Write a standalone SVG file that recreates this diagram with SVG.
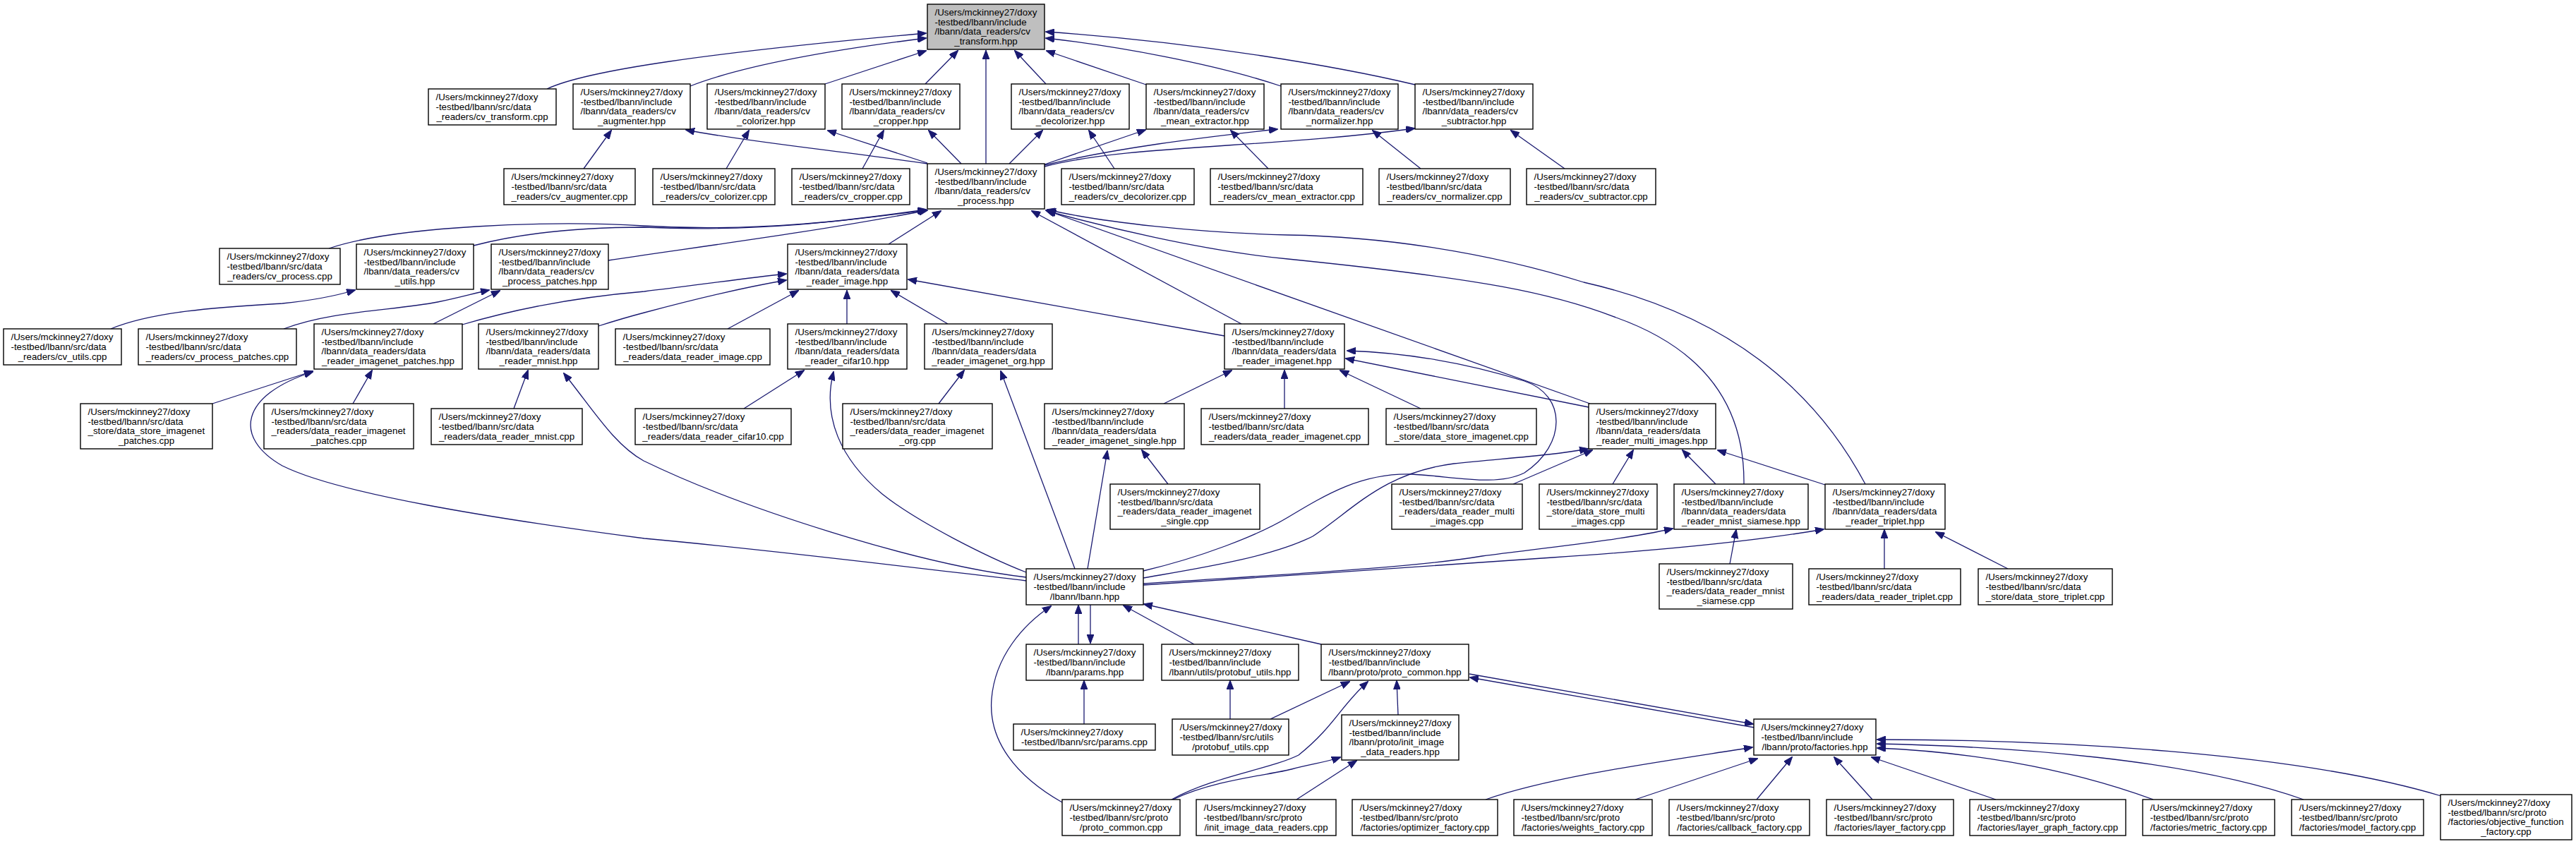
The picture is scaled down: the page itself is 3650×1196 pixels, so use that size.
<svg xmlns="http://www.w3.org/2000/svg" width="3650" height="1196" viewBox="0 0 3650 1196">
<style>
.n rect{fill:#fff;stroke:#000;stroke-width:1.4}
.n.g rect{fill:#bfbfbf}
.n text{font-family:"Liberation Sans",Arial,Helvetica,sans-serif;font-size:13.3px;fill:#000}
.n .c{text-anchor:middle}
.e path{fill:none;stroke:#191970;stroke-width:1.3;marker-end:url(#a)}
</style>
<defs>
<marker id="a" markerUnits="userSpaceOnUse" markerWidth="13" markerHeight="10" viewBox="0 0 13 10" refX="12" refY="5" orient="auto"><path d="M0,0 L13,5 L0,10 z" fill="#191970" stroke="#191970"/></marker>
</defs>
<rect width="3650" height="1196" fill="#fff"/>
<g id="edges" class="e">
<path d="M775,126 C830,100 1000,75 1312,47"/>
<path d="M978,122 C1060,90 1200,68 1312,54"/>
<path d="M1169,119 L1312,72"/>
<path d="M1311,119 L1357,72"/>
<path d="M1397,232 L1397,72"/>
<path d="M1482,119 L1438,72"/>
<path d="M1624,120 L1483,72"/>
<path d="M1815,122 C1720,90 1580,65 1482,54"/>
<path d="M2005,120 C1900,95 1700,60 1482,45"/>
<path d="M1314,232 C1200,215 1050,200 972,184"/>
<path d="M1314,231 L1173,185"/>
<path d="M1362,232 L1316,185"/>
<path d="M1430,232 L1477,185"/>
<path d="M1480,233 L1623,184"/>
<path d="M1480,234 C1580,210 1700,195 1810,183"/>
<path d="M1480,236 C1600,205 1800,210 2004,182"/>
<path d="M827,239 L866,185"/>
<path d="M1029,239 L1061,185"/>
<path d="M1222,239 L1252,185"/>
<path d="M1579,239 L1543,185"/>
<path d="M1797,239 L1744,185"/>
<path d="M2013,239 L1945,185"/>
<path d="M2217,239 L2141,185"/>
<path d="M466,352 C560,320 780,312 912,320 C1080,330 1220,310 1312,297"/>
<path d="M671,348 C740,330 820,322 912,322 C1080,330 1220,310 1312,298"/>
<path d="M862,369 C950,355 1150,330 1314,298"/>
<path d="M1259,346 L1333,299"/>
<path d="M1759,459 L1462,299"/>
<path d="M2253,572 L1482,298"/>
<path d="M2471,686 C2472,590 2430,500 2290,450 C2200,415 2100,395 1825,367 C1700,355 1560,320 1484,299"/>
<path d="M2643,686 C2560,530 2420,440 2244,400 C2100,355 1950,335 1825,333 C1700,330 1560,315 1484,297"/>
<path d="M1735,476 L1287,396"/>
<path d="M157,466 C220,440 320,435 400,430 C450,425 480,418 503,411"/>
<path d="M402,466 C470,440 560,440 620,428 C650,422 670,416 693,411"/>
<path d="M614,459 L708,412"/>
<path d="M655,460 C740,435 830,420 913,413 C980,405 1050,395 1114,388"/>
<path d="M848,462 C870,455 890,449 913,443 C980,425 1050,408 1114,397"/>
<path d="M1031,466 L1131,412"/>
<path d="M1200,459 L1200,412"/>
<path d="M1343,459 L1263,412"/>
<path d="M301,572 L443,526"/>
<path d="M500,572 L527,525"/>
<path d="M728,579 L748,525"/>
<path d="M1054,579 L1139,525"/>
<path d="M1330,572 L1366,525"/>
<path d="M1649,572 L1745,525"/>
<path d="M1820,579 L1820,525"/>
<path d="M2013,579 L1899,525"/>
<path d="M2251,577 L1907,508"/>
<path d="M1655,686 L1618,638"/>
<path d="M2144,686 L2256,638"/>
<path d="M2285,686 L2314,638"/>
<path d="M2431,686 L2384,638"/>
<path d="M2586,687 L2434,638"/>
<path d="M2451,799 L2460,751"/>
<path d="M2670,806 L2670,751"/>
<path d="M2845,806 L2743,754"/>
<path d="M1454,823 C1300,805 1100,780 913,763 C700,735 480,700 400,660 C330,620 340,560 443,527"/>
<path d="M1454,818 C1300,800 1050,720 912,653 C870,630 840,580 799,529"/>
<path d="M1454,811 C1400,790 1300,740 1250,700 C1190,650 1165,590 1181,527"/>
<path d="M1523,806 L1418,526"/>
<path d="M1541,806 L1569,639"/>
<path d="M1620,809 C1700,790 1780,760 1825,733 C1880,700 1930,670 2000,672 C2060,675 2120,690 2160,670 C2220,630 2220,560 2160,540 C2080,515 2000,500 1909,497"/>
<path d="M1620,819 C1700,805 1800,790 1860,760 C1920,720 1960,670 2060,657 C2150,648 2200,645 2250,636"/>
<path d="M1620,827 C1800,815 2000,805 2100,788 C2200,775 2300,765 2370,749"/>
<path d="M1620,829 C1800,818 2050,800 2200,790 C2350,780 2480,768 2584,750"/>
<path d="M1545,857 L1545,911"/>
<path d="M1528,913 L1528,858"/>
<path d="M1692,913 L1592,858"/>
<path d="M1872,913 L1621,856"/>
<path d="M1505,1137 C1440,1100 1400,1050 1405,990 C1410,930 1450,885 1489,859"/>
<path d="M1536,1026 L1536,965"/>
<path d="M1743,1019 L1743,965"/>
<path d="M1800,1019 L1912,966"/>
<path d="M1660,1133 C1720,1100 1800,1090 1840,1070 C1890,1030 1900,1000 1938,966"/>
<path d="M1662,1133 C1720,1105 1800,1098 1830,1090 C1860,1082 1880,1080 1899,1073"/>
<path d="M1837,1133 L1922,1078"/>
<path d="M1981,1013 L1979,965"/>
<path d="M2486,1031 L2083,960"/>
<path d="M2082,955 L2484,1026"/>
<path d="M2105,1133 C2200,1100 2350,1080 2483,1059"/>
<path d="M2317,1133 L2490,1075"/>
<path d="M2489,1133 L2539,1073"/>
<path d="M2653,1133 L2599,1073"/>
<path d="M2828,1133 L2652,1073"/>
<path d="M3051,1133 C2920,1085 2780,1065 2660,1060"/>
<path d="M3264,1133 C3100,1075 2850,1058 2660,1054"/>
<path d="M3459,1128 C3250,1065 2900,1048 2660,1048"/>
</g>
<g id="cv_transform_hpp" class="n g"><rect x="1314" y="6" width="166" height="64"/><text x="1324.5" y="22.1">/Users/mckinney27/doxy</text><text x="1324.5" y="35.7">-testbed/lbann/include</text><text x="1324.5" y="49.3">/lbann/data_readers/cv</text><text class="c" x="1397" y="62.9">_transform.hpp</text></g>
<g id="cv_transform_cpp" class="n"><rect x="607" y="126" width="181" height="51"/><text x="617.5" y="142.4">/Users/mckinney27/doxy</text><text x="617.5" y="156">-testbed/lbann/src/data</text><text class="c" x="697.5" y="169.6">_readers/cv_transform.cpp</text></g>
<g id="cv_augmenter_hpp" class="n"><rect x="812" y="119" width="166" height="64"/><text x="822.5" y="135.1">/Users/mckinney27/doxy</text><text x="822.5" y="148.7">-testbed/lbann/include</text><text x="822.5" y="162.3">/lbann/data_readers/cv</text><text class="c" x="895" y="175.9">_augmenter.hpp</text></g>
<g id="cv_colorizer_hpp" class="n"><rect x="1002" y="119" width="167" height="64"/><text x="1012.5" y="135.1">/Users/mckinney27/doxy</text><text x="1012.5" y="148.7">-testbed/lbann/include</text><text x="1012.5" y="162.3">/lbann/data_readers/cv</text><text class="c" x="1085.5" y="175.9">_colorizer.hpp</text></g>
<g id="cv_cropper_hpp" class="n"><rect x="1193" y="119" width="167" height="64"/><text x="1203.5" y="135.1">/Users/mckinney27/doxy</text><text x="1203.5" y="148.7">-testbed/lbann/include</text><text x="1203.5" y="162.3">/lbann/data_readers/cv</text><text class="c" x="1276.5" y="175.9">_cropper.hpp</text></g>
<g id="cv_decolorizer_hpp" class="n"><rect x="1433" y="119" width="167" height="64"/><text x="1443.5" y="135.1">/Users/mckinney27/doxy</text><text x="1443.5" y="148.7">-testbed/lbann/include</text><text x="1443.5" y="162.3">/lbann/data_readers/cv</text><text class="c" x="1516.5" y="175.9">_decolorizer.hpp</text></g>
<g id="cv_mean_extractor_hpp" class="n"><rect x="1624" y="119" width="167" height="64"/><text x="1634.5" y="135.1">/Users/mckinney27/doxy</text><text x="1634.5" y="148.7">-testbed/lbann/include</text><text x="1634.5" y="162.3">/lbann/data_readers/cv</text><text class="c" x="1707.5" y="175.9">_mean_extractor.hpp</text></g>
<g id="cv_normalizer_hpp" class="n"><rect x="1815" y="119" width="166" height="64"/><text x="1825.5" y="135.1">/Users/mckinney27/doxy</text><text x="1825.5" y="148.7">-testbed/lbann/include</text><text x="1825.5" y="162.3">/lbann/data_readers/cv</text><text class="c" x="1898" y="175.9">_normalizer.hpp</text></g>
<g id="cv_subtractor_hpp" class="n"><rect x="2005" y="119" width="167" height="64"/><text x="2015.5" y="135.1">/Users/mckinney27/doxy</text><text x="2015.5" y="148.7">-testbed/lbann/include</text><text x="2015.5" y="162.3">/lbann/data_readers/cv</text><text class="c" x="2088.5" y="175.9">_subtractor.hpp</text></g>
<g id="cv_augmenter_cpp" class="n"><rect x="714" y="239" width="186" height="51"/><text x="724.5" y="255.4">/Users/mckinney27/doxy</text><text x="724.5" y="269">-testbed/lbann/src/data</text><text class="c" x="807" y="282.6">_readers/cv_augmenter.cpp</text></g>
<g id="cv_colorizer_cpp" class="n"><rect x="925" y="239" width="173" height="51"/><text x="935.5" y="255.4">/Users/mckinney27/doxy</text><text x="935.5" y="269">-testbed/lbann/src/data</text><text class="c" x="1011.5" y="282.6">_readers/cv_colorizer.cpp</text></g>
<g id="cv_cropper_cpp" class="n"><rect x="1122" y="239" width="167" height="51"/><text x="1132.5" y="255.4">/Users/mckinney27/doxy</text><text x="1132.5" y="269">-testbed/lbann/src/data</text><text class="c" x="1205.5" y="282.6">_readers/cv_cropper.cpp</text></g>
<g id="cv_process_hpp" class="n"><rect x="1314" y="232" width="166" height="64"/><text x="1324.5" y="248.1">/Users/mckinney27/doxy</text><text x="1324.5" y="261.7">-testbed/lbann/include</text><text x="1324.5" y="275.3">/lbann/data_readers/cv</text><text class="c" x="1397" y="288.9">_process.hpp</text></g>
<g id="cv_decolorizer_cpp" class="n"><rect x="1504" y="239" width="188" height="51"/><text x="1514.5" y="255.4">/Users/mckinney27/doxy</text><text x="1514.5" y="269">-testbed/lbann/src/data</text><text class="c" x="1598" y="282.6">_readers/cv_decolorizer.cpp</text></g>
<g id="cv_mean_extractor_cpp" class="n"><rect x="1715" y="239" width="216" height="51"/><text x="1725.5" y="255.4">/Users/mckinney27/doxy</text><text x="1725.5" y="269">-testbed/lbann/src/data</text><text class="c" x="1823" y="282.6">_readers/cv_mean_extractor.cpp</text></g>
<g id="cv_normalizer_cpp" class="n"><rect x="1954" y="239" width="186" height="51"/><text x="1964.5" y="255.4">/Users/mckinney27/doxy</text><text x="1964.5" y="269">-testbed/lbann/src/data</text><text class="c" x="2047" y="282.6">_readers/cv_normalizer.cpp</text></g>
<g id="cv_subtractor_cpp" class="n"><rect x="2163" y="239" width="183" height="51"/><text x="2173.5" y="255.4">/Users/mckinney27/doxy</text><text x="2173.5" y="269">-testbed/lbann/src/data</text><text class="c" x="2254.5" y="282.6">_readers/cv_subtractor.cpp</text></g>
<g id="cv_process_cpp" class="n"><rect x="311" y="352" width="171" height="51"/><text x="321.5" y="368.4">/Users/mckinney27/doxy</text><text x="321.5" y="382">-testbed/lbann/src/data</text><text class="c" x="396.5" y="395.6">_readers/cv_process.cpp</text></g>
<g id="cv_utils_hpp" class="n"><rect x="505" y="346" width="166" height="64"/><text x="515.5" y="362.1">/Users/mckinney27/doxy</text><text x="515.5" y="375.7">-testbed/lbann/include</text><text x="515.5" y="389.3">/lbann/data_readers/cv</text><text class="c" x="588" y="402.9">_utils.hpp</text></g>
<g id="cv_process_patches_hpp" class="n"><rect x="696" y="346" width="166" height="64"/><text x="706.5" y="362.1">/Users/mckinney27/doxy</text><text x="706.5" y="375.7">-testbed/lbann/include</text><text x="706.5" y="389.3">/lbann/data_readers/cv</text><text class="c" x="779" y="402.9">_process_patches.hpp</text></g>
<g id="data_reader_image_hpp" class="n"><rect x="1116" y="346" width="169" height="64"/><text x="1126.5" y="362.1">/Users/mckinney27/doxy</text><text x="1126.5" y="375.7">-testbed/lbann/include</text><text x="1126.5" y="389.3">/lbann/data_readers/data</text><text class="c" x="1200.5" y="402.9">_reader_image.hpp</text></g>
<g id="cv_utils_cpp" class="n"><rect x="5" y="466" width="167" height="51"/><text x="15.5" y="482.4">/Users/mckinney27/doxy</text><text x="15.5" y="496">-testbed/lbann/src/data</text><text class="c" x="88.5" y="509.6">_readers/cv_utils.cpp</text></g>
<g id="cv_process_patches_cpp" class="n"><rect x="196" y="466" width="224" height="51"/><text x="206.5" y="482.4">/Users/mckinney27/doxy</text><text x="206.5" y="496">-testbed/lbann/src/data</text><text class="c" x="308" y="509.6">_readers/cv_process_patches.cpp</text></g>
<g id="data_reader_imagenet_patches_hpp" class="n"><rect x="445" y="459" width="210" height="64"/><text x="455.5" y="475.1">/Users/mckinney27/doxy</text><text x="455.5" y="488.7">-testbed/lbann/include</text><text x="455.5" y="502.3">/lbann/data_readers/data</text><text class="c" x="550" y="515.9">_reader_imagenet_patches.hpp</text></g>
<g id="data_reader_mnist_hpp" class="n"><rect x="678" y="459" width="170" height="64"/><text x="688.5" y="475.1">/Users/mckinney27/doxy</text><text x="688.5" y="488.7">-testbed/lbann/include</text><text x="688.5" y="502.3">/lbann/data_readers/data</text><text class="c" x="763" y="515.9">_reader_mnist.hpp</text></g>
<g id="data_reader_image_cpp" class="n"><rect x="872" y="466" width="219" height="51"/><text x="882.5" y="482.4">/Users/mckinney27/doxy</text><text x="882.5" y="496">-testbed/lbann/src/data</text><text class="c" x="981.5" y="509.6">_readers/data_reader_image.cpp</text></g>
<g id="data_reader_cifar10_hpp" class="n"><rect x="1116" y="459" width="169" height="64"/><text x="1126.5" y="475.1">/Users/mckinney27/doxy</text><text x="1126.5" y="488.7">-testbed/lbann/include</text><text x="1126.5" y="502.3">/lbann/data_readers/data</text><text class="c" x="1200.5" y="515.9">_reader_cifar10.hpp</text></g>
<g id="data_reader_imagenet_org_hpp" class="n"><rect x="1310" y="459" width="181" height="64"/><text x="1320.5" y="475.1">/Users/mckinney27/doxy</text><text x="1320.5" y="488.7">-testbed/lbann/include</text><text x="1320.5" y="502.3">/lbann/data_readers/data</text><text class="c" x="1400.5" y="515.9">_reader_imagenet_org.hpp</text></g>
<g id="data_reader_imagenet_hpp" class="n"><rect x="1735" y="459" width="170" height="64"/><text x="1745.5" y="475.1">/Users/mckinney27/doxy</text><text x="1745.5" y="488.7">-testbed/lbann/include</text><text x="1745.5" y="502.3">/lbann/data_readers/data</text><text class="c" x="1820" y="515.9">_reader_imagenet.hpp</text></g>
<g id="data_store_imagenet_patches_cpp" class="n"><rect x="114" y="572" width="187" height="64"/><text x="124.5" y="588.1">/Users/mckinney27/doxy</text><text x="124.5" y="601.7">-testbed/lbann/src/data</text><text x="124.5" y="615.3">_store/data_store_imagenet</text><text class="c" x="207.5" y="628.9">_patches.cpp</text></g>
<g id="data_reader_imagenet_patches_cpp" class="n"><rect x="374" y="572" width="212" height="64"/><text x="384.5" y="588.1">/Users/mckinney27/doxy</text><text x="384.5" y="601.7">-testbed/lbann/src/data</text><text x="384.5" y="615.3">_readers/data_reader_imagenet</text><text class="c" x="480" y="628.9">_patches.cpp</text></g>
<g id="data_reader_mnist_cpp" class="n"><rect x="611" y="579" width="214" height="51"/><text x="621.5" y="595.4">/Users/mckinney27/doxy</text><text x="621.5" y="609">-testbed/lbann/src/data</text><text class="c" x="718" y="622.6">_readers/data_reader_mnist.cpp</text></g>
<g id="data_reader_cifar10_cpp" class="n"><rect x="900" y="579" width="221" height="51"/><text x="910.5" y="595.4">/Users/mckinney27/doxy</text><text x="910.5" y="609">-testbed/lbann/src/data</text><text class="c" x="1010.5" y="622.6">_readers/data_reader_cifar10.cpp</text></g>
<g id="data_reader_imagenet_org_cpp" class="n"><rect x="1194" y="572" width="212" height="64"/><text x="1204.5" y="588.1">/Users/mckinney27/doxy</text><text x="1204.5" y="601.7">-testbed/lbann/src/data</text><text x="1204.5" y="615.3">_readers/data_reader_imagenet</text><text class="c" x="1300" y="628.9">_org.cpp</text></g>
<g id="data_reader_imagenet_single_hpp" class="n"><rect x="1480" y="572" width="198" height="64"/><text x="1490.5" y="588.1">/Users/mckinney27/doxy</text><text x="1490.5" y="601.7">-testbed/lbann/include</text><text x="1490.5" y="615.3">/lbann/data_readers/data</text><text class="c" x="1579" y="628.9">_reader_imagenet_single.hpp</text></g>
<g id="data_reader_imagenet_cpp" class="n"><rect x="1702" y="579" width="237" height="51"/><text x="1712.5" y="595.4">/Users/mckinney27/doxy</text><text x="1712.5" y="609">-testbed/lbann/src/data</text><text class="c" x="1820.5" y="622.6">_readers/data_reader_imagenet.cpp</text></g>
<g id="data_store_imagenet_cpp" class="n"><rect x="1964" y="579" width="213" height="51"/><text x="1974.5" y="595.4">/Users/mckinney27/doxy</text><text x="1974.5" y="609">-testbed/lbann/src/data</text><text class="c" x="2070.5" y="622.6">_store/data_store_imagenet.cpp</text></g>
<g id="data_reader_multi_images_hpp" class="n"><rect x="2251" y="572" width="180" height="64"/><text x="2261.5" y="588.1">/Users/mckinney27/doxy</text><text x="2261.5" y="601.7">-testbed/lbann/include</text><text x="2261.5" y="615.3">/lbann/data_readers/data</text><text class="c" x="2341" y="628.9">_reader_multi_images.hpp</text></g>
<g id="data_reader_imagenet_single_cpp" class="n"><rect x="1573" y="686" width="212" height="64"/><text x="1583.5" y="702.1">/Users/mckinney27/doxy</text><text x="1583.5" y="715.7">-testbed/lbann/src/data</text><text x="1583.5" y="729.3">_readers/data_reader_imagenet</text><text class="c" x="1679" y="742.9">_single.cpp</text></g>
<g id="data_reader_multi_images_cpp" class="n"><rect x="1972" y="686" width="185" height="64"/><text x="1982.5" y="702.1">/Users/mckinney27/doxy</text><text x="1982.5" y="715.7">-testbed/lbann/src/data</text><text x="1982.5" y="729.3">_readers/data_reader_multi</text><text class="c" x="2064.5" y="742.9">_images.cpp</text></g>
<g id="data_store_multi_images_cpp" class="n"><rect x="2181" y="686" width="167" height="64"/><text x="2191.5" y="702.1">/Users/mckinney27/doxy</text><text x="2191.5" y="715.7">-testbed/lbann/src/data</text><text x="2191.5" y="729.3">_store/data_store_multi</text><text class="c" x="2264.5" y="742.9">_images.cpp</text></g>
<g id="data_reader_mnist_siamese_hpp" class="n"><rect x="2372" y="686" width="190" height="64"/><text x="2382.5" y="702.1">/Users/mckinney27/doxy</text><text x="2382.5" y="715.7">-testbed/lbann/include</text><text x="2382.5" y="729.3">/lbann/data_readers/data</text><text class="c" x="2467" y="742.9">_reader_mnist_siamese.hpp</text></g>
<g id="data_reader_triplet_hpp" class="n"><rect x="2586" y="686" width="170" height="64"/><text x="2596.5" y="702.1">/Users/mckinney27/doxy</text><text x="2596.5" y="715.7">-testbed/lbann/include</text><text x="2596.5" y="729.3">/lbann/data_readers/data</text><text class="c" x="2671" y="742.9">_reader_triplet.hpp</text></g>
<g id="lbann_hpp" class="n"><rect x="1454" y="806" width="166" height="51"/><text x="1464.5" y="822.4">/Users/mckinney27/doxy</text><text x="1464.5" y="836">-testbed/lbann/include</text><text class="c" x="1537" y="849.6">/lbann/lbann.hpp</text></g>
<g id="data_reader_mnist_siamese_cpp" class="n"><rect x="2351" y="799" width="189" height="64"/><text x="2361.5" y="815.1">/Users/mckinney27/doxy</text><text x="2361.5" y="828.7">-testbed/lbann/src/data</text><text x="2361.5" y="842.3">_readers/data_reader_mnist</text><text class="c" x="2445.5" y="855.9">_siamese.cpp</text></g>
<g id="data_reader_triplet_cpp" class="n"><rect x="2563" y="806" width="215" height="51"/><text x="2573.5" y="822.4">/Users/mckinney27/doxy</text><text x="2573.5" y="836">-testbed/lbann/src/data</text><text class="c" x="2670.5" y="849.6">_readers/data_reader_triplet.cpp</text></g>
<g id="data_store_triplet_cpp" class="n"><rect x="2803" y="806" width="190" height="51"/><text x="2813.5" y="822.4">/Users/mckinney27/doxy</text><text x="2813.5" y="836">-testbed/lbann/src/data</text><text class="c" x="2898" y="849.6">_store/data_store_triplet.cpp</text></g>
<g id="params_hpp" class="n"><rect x="1454" y="913" width="166" height="51"/><text x="1464.5" y="929.4">/Users/mckinney27/doxy</text><text x="1464.5" y="943">-testbed/lbann/include</text><text class="c" x="1537" y="956.6">/lbann/params.hpp</text></g>
<g id="protobuf_utils_hpp" class="n"><rect x="1646" y="913" width="194" height="51"/><text x="1656.5" y="929.4">/Users/mckinney27/doxy</text><text x="1656.5" y="943">-testbed/lbann/include</text><text class="c" x="1743" y="956.6">/lbann/utils/protobuf_utils.hpp</text></g>
<g id="proto_common_hpp" class="n"><rect x="1872" y="913" width="209" height="51"/><text x="1882.5" y="929.4">/Users/mckinney27/doxy</text><text x="1882.5" y="943">-testbed/lbann/include</text><text class="c" x="1976.5" y="956.6">/lbann/proto/proto_common.hpp</text></g>
<g id="params_cpp" class="n"><rect x="1436" y="1026" width="201" height="37"/><text x="1446.5" y="1042.2">/Users/mckinney27/doxy</text><text class="c" x="1536.5" y="1055.8">-testbed/lbann/src/params.cpp</text></g>
<g id="protobuf_utils_cpp" class="n"><rect x="1661" y="1019" width="165" height="51"/><text x="1671.5" y="1035.4">/Users/mckinney27/doxy</text><text x="1671.5" y="1049">-testbed/lbann/src/utils</text><text class="c" x="1743.5" y="1062.6">/protobuf_utils.cpp</text></g>
<g id="init_image_data_readers_hpp" class="n"><rect x="1901" y="1013" width="166" height="64"/><text x="1911.5" y="1029.1">/Users/mckinney27/doxy</text><text x="1911.5" y="1042.7">-testbed/lbann/include</text><text x="1911.5" y="1056.3">/lbann/proto/init_image</text><text class="c" x="1984" y="1069.9">_data_readers.hpp</text></g>
<g id="factories_hpp" class="n"><rect x="2485" y="1019" width="173" height="51"/><text x="2495.5" y="1035.4">/Users/mckinney27/doxy</text><text x="2495.5" y="1049">-testbed/lbann/include</text><text class="c" x="2571.5" y="1062.6">/lbann/proto/factories.hpp</text></g>
<g id="proto_common_cpp" class="n"><rect x="1505" y="1133" width="167" height="51"/><text x="1515.5" y="1149.4">/Users/mckinney27/doxy</text><text x="1515.5" y="1163">-testbed/lbann/src/proto</text><text class="c" x="1588.5" y="1176.6">/proto_common.cpp</text></g>
<g id="init_image_data_readers_cpp" class="n"><rect x="1695" y="1133" width="198" height="51"/><text x="1705.5" y="1149.4">/Users/mckinney27/doxy</text><text x="1705.5" y="1163">-testbed/lbann/src/proto</text><text class="c" x="1794" y="1176.6">/init_image_data_readers.cpp</text></g>
<g id="optimizer_factory_cpp" class="n"><rect x="1916" y="1133" width="206" height="51"/><text x="1926.5" y="1149.4">/Users/mckinney27/doxy</text><text x="1926.5" y="1163">-testbed/lbann/src/proto</text><text class="c" x="2019" y="1176.6">/factories/optimizer_factory.cpp</text></g>
<g id="weights_factory_cpp" class="n"><rect x="2145" y="1133" width="196" height="51"/><text x="2155.5" y="1149.4">/Users/mckinney27/doxy</text><text x="2155.5" y="1163">-testbed/lbann/src/proto</text><text class="c" x="2243" y="1176.6">/factories/weights_factory.cpp</text></g>
<g id="callback_factory_cpp" class="n"><rect x="2365" y="1133" width="199" height="51"/><text x="2375.5" y="1149.4">/Users/mckinney27/doxy</text><text x="2375.5" y="1163">-testbed/lbann/src/proto</text><text class="c" x="2464.5" y="1176.6">/factories/callback_factory.cpp</text></g>
<g id="layer_factory_cpp" class="n"><rect x="2588" y="1133" width="180" height="51"/><text x="2598.5" y="1149.4">/Users/mckinney27/doxy</text><text x="2598.5" y="1163">-testbed/lbann/src/proto</text><text class="c" x="2678" y="1176.6">/factories/layer_factory.cpp</text></g>
<g id="layer_graph_factory_cpp" class="n"><rect x="2791" y="1133" width="221" height="51"/><text x="2801.5" y="1149.4">/Users/mckinney27/doxy</text><text x="2801.5" y="1163">-testbed/lbann/src/proto</text><text class="c" x="2901.5" y="1176.6">/factories/layer_graph_factory.cpp</text></g>
<g id="metric_factory_cpp" class="n"><rect x="3036" y="1133" width="187" height="51"/><text x="3046.5" y="1149.4">/Users/mckinney27/doxy</text><text x="3046.5" y="1163">-testbed/lbann/src/proto</text><text class="c" x="3129.5" y="1176.6">/factories/metric_factory.cpp</text></g>
<g id="model_factory_cpp" class="n"><rect x="3247" y="1133" width="187" height="51"/><text x="3257.5" y="1149.4">/Users/mckinney27/doxy</text><text x="3257.5" y="1163">-testbed/lbann/src/proto</text><text class="c" x="3340.5" y="1176.6">/factories/model_factory.cpp</text></g>
<g id="objective_function_factory_cpp" class="n"><rect x="3458" y="1126" width="186" height="64"/><text x="3468.5" y="1142.1">/Users/mckinney27/doxy</text><text x="3468.5" y="1155.7">-testbed/lbann/src/proto</text><text x="3468.5" y="1169.3">/factories/objective_function</text><text class="c" x="3551" y="1182.9">_factory.cpp</text></g>
</svg>
